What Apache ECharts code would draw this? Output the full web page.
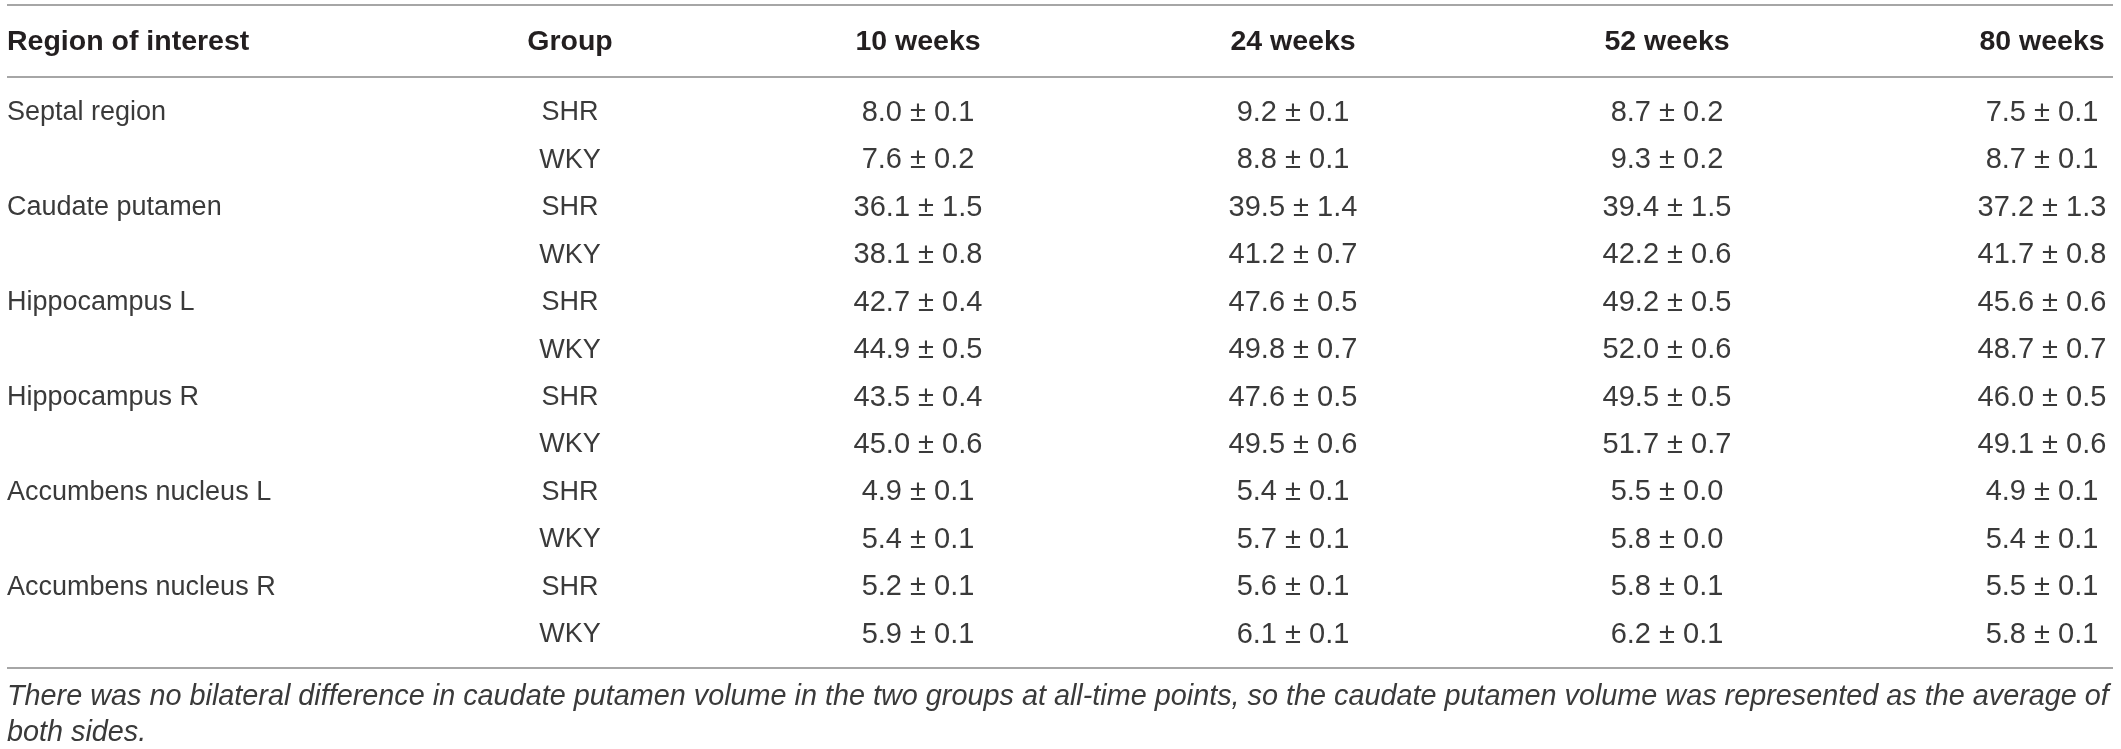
<!DOCTYPE html>
<html>
<head>
<meta charset="utf-8">
<title>Regional brain volume, SHR vs WKY</title>
<script src="https://cdn.jsdelivr.net/npm/echarts@6/dist/echarts.min.js"></script>
<style>
  html, body { margin: 0; padding: 0; background: #fff; }
  #chart { width: 2121px; height: 749px; }
</style>
</head>
<body>
<div id="chart"></div>
<script>
// table data
var regions = ['Septal region', 'Caudate putamen', 'Hippocampus L', 'Hippocampus R', 'Accumbens nucleus L', 'Accumbens nucleus R'];
var groups = ['SHR', 'WKY'];
var weeks = ['10 weeks', '24 weeks', '52 weeks', '80 weeks'];
var headers = ['Region of interest', 'Group'].concat(weeks);

// mean and SEM per region, columns = weeks
var shrMean = [[8.0, 9.2, 8.7, 7.5], [36.1, 39.5, 39.4, 37.2], [42.7, 47.6, 49.2, 45.6], [43.5, 47.6, 49.5, 46.0], [4.9, 5.4, 5.5, 4.9], [5.2, 5.6, 5.8, 5.5]];
var shrSem  = [[0.1, 0.1, 0.2, 0.1], [1.5, 1.4, 1.5, 1.3], [0.4, 0.5, 0.5, 0.6], [0.4, 0.5, 0.5, 0.5], [0.1, 0.1, 0.0, 0.1], [0.1, 0.1, 0.1, 0.1]];
var wkyMean = [[7.6, 8.8, 9.3, 8.7], [38.1, 41.2, 42.2, 41.7], [44.9, 49.8, 52.0, 48.7], [45.0, 49.5, 51.7, 49.1], [5.4, 5.7, 5.8, 5.4], [5.9, 6.1, 6.2, 5.8]];
var wkySem  = [[0.2, 0.1, 0.2, 0.1], [0.8, 0.7, 0.6, 0.8], [0.5, 0.7, 0.6, 0.7], [0.6, 0.6, 0.7, 0.6], [0.1, 0.1, 0.0, 0.1], [0.1, 0.1, 0.1, 0.1]];

var footnote = ['There was no bilateral difference in caudate putamen volume in the two groups at all-time points, so the caudate putamen volume was represented as the average of',
  'both sides.'];

// layout (column anchors and alignment)
var colX = [7, 570, 918, 1293, 1667, 2042];
var colAlign = ['left', 'center', 'center', 'center', 'center', 'center'];
var fontFam = '"Liberation Sans", Arial, Helvetica, sans-serif';

// build row labels and cells
var rowNames = [];
var cells = [];
regions.forEach(function (reg, r) {
  groups.forEach(function (g, k) {
    var row = r * 2 + k;
    rowNames.push(reg + ' ' + g);
    if (k === 0) cells.push([colX[0], row, reg, 0]);
    cells.push([colX[1], row, g, 1]);
    var m = k === 0 ? shrMean[r] : wkyMean[r];
    var s = k === 0 ? shrSem[r] : wkySem[r];
    for (var c = 0; c < weeks.length; c++) {
      cells.push([colX[c + 2], row, m[c].toFixed(1) + ' \u00b1 ' + s[c].toFixed(1), c + 2]);
    }
  });
});

var graphics = [];
// rules
[5, 77, 668].forEach(function (y) {
  graphics.push({
    type: 'line',
    shape: { x1: 7, y1: y, x2: 2113, y2: y },
    style: { stroke: '#a6a6a6', lineWidth: 2 },
    silent: true
  });
});
// header row
headers.forEach(function (h, i) {
  graphics.push({
    type: 'text',
    x: colX[i], y: 42,
    style: {
      text: h, fill: '#231f20', font: 'bold 28.5px ' + fontFam,
      textAlign: colAlign[i], textVerticalAlign: 'middle'
    },
    silent: true
  });
});
// footnote
footnote.forEach(function (line, i) {
  graphics.push({
    type: 'text',
    x: 7, y: 697 + i * 36,
    style: {
      text: line, fill: '#3a3a3a', font: 'italic 28.8px ' + fontFam,
      textAlign: 'left', textVerticalAlign: 'middle'
    },
    silent: true
  });
});

var myChart = echarts.init(document.getElementById('chart'));
var option = {
  animation: false,
  grid: { left: 0, right: 0, top: 89.3, height: 569 },
  xAxis: { type: 'value', min: 0, max: 2121, show: false },
  yAxis: { type: 'category', data: rowNames, inverse: true, show: false },
  graphic: graphics,
  series: [{
    type: 'custom',
    data: cells,
    renderItem: function (params, api) {
      var pt = api.coord([api.value(0), api.value(1)]);
      var c = api.value(3);
      return {
        type: 'text',
        x: pt[0], y: pt[1],
        style: {
          text: cells[params.dataIndex][2],
          fill: '#3a3a3a',
          font: (c < 2 ? '27px ' : '29px ') + fontFam,
          textAlign: colAlign[c],
          textVerticalAlign: 'middle'
        }
      };
    }
  }]
};
myChart.setOption(option);
</script>
</body>
</html>
